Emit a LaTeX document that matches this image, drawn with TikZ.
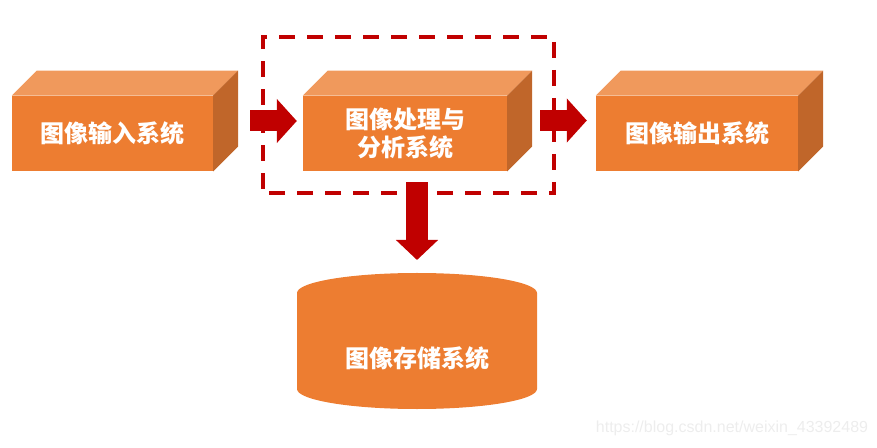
\documentclass[tikz,border=0pt]{standalone}
\usepackage{fontspec}
\newfontfamily\cjk{Noto Sans CJK SC}
\setsansfont{Liberation Sans}
\usetikzlibrary{arrows.meta}
\begin{document}
\begin{tikzpicture}[x=1pt,y=1pt,font=\cjk\bfseries\fontsize{24}{28}\selectfont,
  bloc/.style={fill=face,text=white,align=center,inner sep=0pt,minimum height=75.5pt},
  fleche/.style={rouge,line width=21pt,-{Triangle[length=20pt,width=43pt]}}]
\definecolor{face}{RGB}{237,125,49}
\definecolor{dessus}{RGB}{240,153,92}
\definecolor{cote}{RGB}{192,102,42}
\definecolor{rouge}{RGB}{192,0,0}
\useasboundingbox (0,0) rectangle (877,447);
% les trois blocs
\foreach \nom/\x/\w/\texte in {entree/112.5/201/图像输入系统,traitement/405/204/{图像处理与\\分析系统},sortie/697/202/图像输出系统} {
  \node[bloc,minimum width=\w pt] (\nom) at (\x,313.5) {\texte};
  \fill[dessus] (\nom.north west) -- ++(25,25) -- ([shift={(25,25)}]\nom.north east) -- (\nom.north east) -- cycle;
  \fill[cote] (\nom.north east) -- ++(25,25) -- ([shift={(25,25)}]\nom.south east) -- (\nom.south east) -- cycle;
}
\draw[rouge,line width=3.5pt,dash pattern=on 16pt off 12pt,dash phase=-4pt] (263,254) rectangle (554,410);
% stockage
\fill[face] (297,154) arc[start angle=180,end angle=0,x radius=120,y radius=20] -- (537,58)
  arc[start angle=0,end angle=-180,x radius=120,y radius=20] -- cycle;
\coordinate (haut) at (417,174);
\node[text=white] (stockage) at (417,89) {图像存储系统};
\draw[fleche] ([xshift=37pt,yshift=12.5pt]entree.east) -- ([xshift=-6pt,yshift=12.5pt]traitement.west);
\draw[fleche] ([xshift=33pt,yshift=13pt]traitement.east) -- ([xshift=-9pt,yshift=13pt]sortie.west);
\draw[fleche,line width=22pt,-{Triangle[length=20pt,width=41pt]}] ([xshift=12pt,yshift=-11pt]traitement.south) -- ([yshift=13pt]haut);
\node[font=\sffamily\fontsize{16}{18}\selectfont,text=black!7] (source) at (732,19) {https://blog.csdn.net/weixin\_43392489};
\end{tikzpicture}
\end{document}
